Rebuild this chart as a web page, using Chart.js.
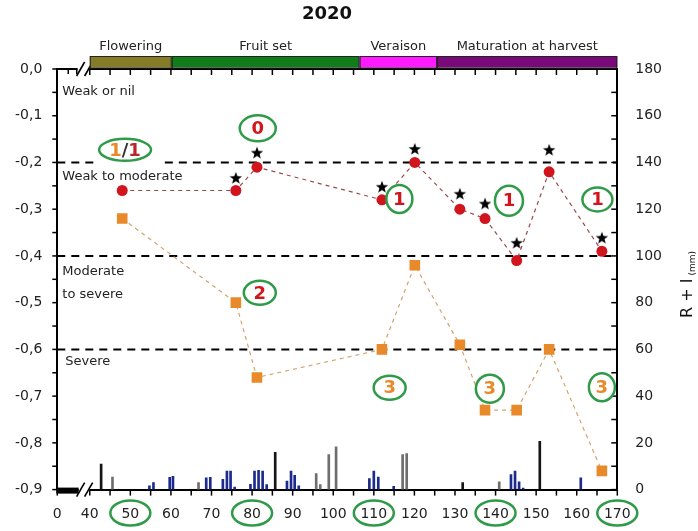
<!DOCTYPE html>
<html><head><meta charset="utf-8">
<script src="https://cdn.jsdelivr.net/npm/chart.js@4.4.1/dist/chart.umd.min.js"></script>
<style>html,body{margin:0;padding:0;background:#fff;}#wrap{width:698px;height:531px;position:relative;}</style>
</head><body><div id="wrap"><canvas id="c" width="698" height="531"></canvas></div>
<script>
// ---------- data ----------
const days = [48.0, 76.0, 81.2, 112.0, 120.1, 131.2, 137.4, 145.2, 153.2, 166.2];
const redValues = [-0.26, -0.26, -0.21, -0.28, -0.20, -0.30, -0.32, -0.41, -0.22, -0.39];
const orangeValues = [-0.32, -0.50, -0.66, -0.60, -0.42, -0.59, -0.73, -0.73, -0.60, -0.86];
const starDays = [76.0, 81.2, 112.0, 120.1, 131.2, 137.4, 145.2, 153.2, 166.2];
const starValues = [-0.233, -0.179, -0.252, -0.171, -0.267, -0.288, -0.372, -0.173, -0.361];

const blueRainDays = [54.7, 55.7, 59.7, 60.5, 68.7, 69.7, 72.8, 73.8, 74.7, 75.7, 79.6, 80.6, 81.6, 82.6, 83.6, 88.6, 89.6, 90.5, 91.5, 108.9, 110.0, 111.1, 114.9, 143.8, 144.8, 145.8, 146.8, 161.0];
const blueRainMm   = [1.6, 3.0, 5.3, 5.7, 5.0, 5.3, 4.4, 7.9, 7.9, 1.1, 2.3, 7.9, 8.3, 7.9, 2.1, 3.6, 7.9, 6.1, 1.6, 4.7, 7.9, 5.4, 1.4, 6.4, 7.9, 3.3, 0.7, 5.0];
const grayRainDays = [45.6, 66.8, 95.8, 96.8, 98.9, 100.7, 117.1, 118.1, 140.9];
const grayRainMm   = [5.4, 3.0, 6.9, 2.1, 15.0, 18.3, 15.0, 15.4, 3.3];
const blackRainDays = [42.8, 85.7, 131.9, 150.9];
const blackRainMm   = [10.9, 15.9, 3.0, 20.7];

const xTickValues = [32, 40, 50, 60, 70, 80, 90, 100, 110, 120, 130, 140, 150, 160, 170];
const xTickLabels = ['0', '40', '50', '60', '70', '80', '90', '100', '110', '120', '130', '140', '150', '160', '170'];
const yTickValues = [0, -0.1, -0.2, -0.3, -0.4, -0.5, -0.6, -0.7, -0.8, -0.9];
const yTickLabels = ['0,0', '-0,1', '-0,2', '-0,3', '-0,4', '-0,5', '-0,6', '-0,7', '-0,8', '-0,9'];
const y2TickValues = [0, 20, 40, 60, 80, 100, 120, 140, 160, 180];
const circledDays = [50, 80, 110, 140, 170];

const thresholds = [-0.2, -0.4, -0.6];
const zoneLabels = ['Weak or nil', 'Weak to moderate', 'Moderate', 'to severe', 'Severe'];
const zoneLabelValues = [-0.049, -0.23, -0.434, -0.483, -0.627];

const phaseNames = ['Flowering', 'Fruit set', 'Veraison', 'Maturation at harvest'];
const phaseStarts = [40, 60.2, 106.5, 125.6];
const phaseEnds = [60.2, 106.5, 125.6, 170];

const annotDays = [48.7, 81.4, 116.3, 143.3, 165.1, 81.9, 113.9, 138.6, 166.2];
const annotValues = [-0.173, -0.127, -0.278, -0.282, -0.279, -0.479, -0.682, -0.684, -0.681];
const annotTexts = ['1/1', '0', '1', '1', '1', '2', '3', '3', '3'];

// ---------- styles ----------
const RED = '#d0161c', ORANGE = '#e8892a', GREEN = '#2f9a48';
const annotColors = ['mix', RED, RED, RED, RED, RED, ORANGE, ORANGE, ORANGE];
const annotSizes = [[26, 11], [18, 13], [13, 14], [14, 15], [15, 12], [16, 12], [16, 12], [14, 14], [13, 14]];
const phaseColors = ['#857c27', '#117d1a', '#ff1aff', '#7a0a7a'];
const FONT = '"DejaVu Sans", sans-serif';

function makeStar(){
  const c = document.createElement('canvas');
  c.width = 14; c.height = 14;
  const g = c.getContext('2d');
  g.fillStyle = '#000';
  g.beginPath();
  for (let i = 0; i < 10; i++) {
    const r = i % 2 === 0 ? 6.5 : 2.7;
    const a = -Math.PI / 2 + i * Math.PI / 5;
    const px = 7 + r * Math.cos(a), py = 7.5 + r * Math.sin(a);
    if (i === 0) g.moveTo(px, py); else g.lineTo(px, py);
  }
  g.closePath(); g.fill();
  return c;
}
const starImg = makeStar();

const pts = (xs, ys) => xs.map((x, i) => ({x: x, y: ys[i]}));

const decor = {
  id: 'decor',
  beforeDatasetsDraw(chart) {
    const {ctx, chartArea: a, scales} = chart;
    const y = scales.y, x = scales.x;
    ctx.save();
    // threshold lines
    ctx.strokeStyle = '#000'; ctx.lineWidth = 2; ctx.setLineDash([8, 6]);
    thresholds.forEach((t, i) => {
      const py = y.getPixelForValue(t);
      ctx.beginPath();
      if (i === 0) {
        ctx.moveTo(a.left, py); ctx.lineTo(x.getPixelForValue(41.8), py);
        ctx.moveTo(x.getPixelForValue(58.5), py); ctx.lineTo(a.right, py);
      } else {
        ctx.moveTo(a.left, py); ctx.lineTo(a.right, py);
      }
      ctx.stroke();
    });
    ctx.setLineDash([]);
    // zone labels
    ctx.fillStyle = '#222'; ctx.font = '13px ' + FONT;
    ctx.textAlign = 'left'; ctx.textBaseline = 'middle';
    zoneLabels.forEach((t, i) => {
      const py = y.getPixelForValue(zoneLabelValues[i]);
      const px = a.left + (t === 'Severe' ? 8 : 5);
      ctx.fillText(t, px, py);
    });
    ctx.restore();
  },
  afterDraw(chart) {
    const {ctx, chartArea: a, scales} = chart;
    const x = scales.x, y = scales.y, y2 = scales.y2;
    ctx.save();
    ctx.strokeStyle = '#000'; ctx.lineWidth = 2;
    // top axis line with break
    const brk1 = x.getPixelForValue(37.5), brk2 = x.getPixelForValue(40);
    ctx.beginPath();
    ctx.moveTo(a.left - 1, a.top); ctx.lineTo(brk1 - 2, a.top);
    ctx.moveTo(brk2, a.top); ctx.lineTo(a.right, a.top);
    ctx.stroke();
    // bottom: thick segment and break
    ctx.fillStyle = '#fff';
    ctx.fillRect(brk1 - 1, a.bottom - 3, brk2 - brk1 + 1, 6);
    ctx.fillStyle = '#000';
    ctx.fillRect(a.left - 1, a.bottom - 2, brk1 - a.left, 6);
    ctx.lineWidth = 1.6;
    [a.top, a.bottom].forEach(py => {
      [brk1 + 1, brk1 + 9].forEach(px => {
        ctx.beginPath(); ctx.moveTo(px - 4, py + 7); ctx.lineTo(px + 4, py - 7); ctx.stroke();
      });
    });
    // ticks
    ctx.lineWidth = 1.5;
    for (let v = 40; v <= 170; v += 5) {
      const px = x.getPixelForValue(v);
      ctx.beginPath(); ctx.moveTo(px, a.bottom); ctx.lineTo(px, a.bottom + 6); ctx.stroke();
      if (v < 170) { ctx.beginPath(); ctx.moveTo(px, a.top); ctx.lineTo(px, a.top + 6); ctx.stroke(); }
    }
    [x.getPixelForValue(34.7), x.getPixelForValue(36.8)].forEach(px => {
      ctx.beginPath(); ctx.moveTo(px, a.top); ctx.lineTo(px, a.top + 5); ctx.stroke();
    });
    ctx.beginPath(); ctx.moveTo(a.left, a.bottom); ctx.lineTo(a.left, a.bottom + 6); ctx.stroke();
    for (let k = 0; k <= 18; k++) {
      const py = y.getPixelForValue(-k * 0.05);
      ctx.beginPath(); ctx.moveTo(a.left - 5, py); ctx.lineTo(a.left, py); ctx.stroke();
    }
    for (let v = 0; v <= 180; v += 10) {
      const py = y2.getPixelForValue(v);
      ctx.beginPath(); ctx.moveTo(a.right - 6, py); ctx.lineTo(a.right, py); ctx.stroke();
    }
    // phase bar
    const bt = a.top - 13, bh = 11.5;
    phaseNames.forEach((n, i) => {
      const x0 = x.getPixelForValue(phaseStarts[i]), x1 = x.getPixelForValue(phaseEnds[i]);
      ctx.fillStyle = phaseColors[i];
      ctx.fillRect(x0, bt, x1 - x0, bh);
      ctx.strokeStyle = '#222'; ctx.lineWidth = 1;
      ctx.strokeRect(x0 + 0.5, bt + 0.5, x1 - x0 - 1, bh);
      ctx.fillStyle = '#222'; ctx.font = '13px ' + FONT;
      ctx.textAlign = 'center'; ctx.textBaseline = 'middle';
      ctx.fillText(n, (x0 + x1) / 2, bt - 9);
    });
    // title
    ctx.fillStyle = '#111'; ctx.font = 'bold 18px ' + FONT;
    ctx.textAlign = 'center'; ctx.textBaseline = 'middle';
    ctx.fillText('2020', 327, 14);
    // right axis title
    ctx.save();
    ctx.translate(692, 318); ctx.rotate(-Math.PI / 2);
    ctx.textAlign = 'left'; ctx.textBaseline = 'alphabetic';
    ctx.font = '16px ' + FONT; ctx.fillStyle = '#111';
    ctx.fillText('R + I', 0, 0);
    const w = ctx.measureText('R + I').width;
    ctx.font = '9px ' + FONT;
    ctx.fillText('(mm)', w + 3, 3);
    ctx.restore();
    // annotations
    annotTexts.forEach((t, i) => {
      const cx = x.getPixelForValue(annotDays[i]), cy = y.getPixelForValue(annotValues[i]);
      const [rx, ry] = annotSizes[i];
      ctx.beginPath(); ctx.ellipse(cx, cy, rx, ry, 0, 0, Math.PI * 2);
      ctx.fillStyle = '#fff'; ctx.fill();
      ctx.strokeStyle = GREEN; ctx.lineWidth = 2.5; ctx.stroke();
      ctx.font = 'bold 18px ' + FONT; ctx.textBaseline = 'middle';
      if (annotColors[i] === 'mix') {
        const parts = [['1', ORANGE], ['/', '#333'], ['1', '#b8272b']];
        const tw = parts.reduce((s, p) => s + ctx.measureText(p[0]).width, 0);
        let px = cx - tw / 2;
        ctx.textAlign = 'left';
        parts.forEach(p => { ctx.fillStyle = p[1]; ctx.fillText(p[0], px, cy + 1); px += ctx.measureText(p[0]).width; });
      } else {
        ctx.textAlign = 'center'; ctx.fillStyle = annotColors[i];
        ctx.fillText(t, cx, cy + 1);
      }
    });
    // circled x labels
    ctx.strokeStyle = GREEN; ctx.lineWidth = 2.5;
    circledDays.forEach(d => {
      const cx = x.getPixelForValue(d);
      ctx.beginPath(); ctx.ellipse(cx, 513, 20, 12.5, 0, 0, Math.PI * 2); ctx.stroke();
    });
    ctx.restore();
  }
};

const rainSet = (xs, ys, col) => ({
  type: 'bar', label: 'rain', data: pts(xs, ys), yAxisID: 'y2', xAxisID: 'x',
  backgroundColor: col, borderWidth: 0, barThickness: 2, grouped: false, order: 5
});

new Chart(document.getElementById('c'), {
  type: 'bar',
  data: {
    datasets: [
      rainSet(blueRainDays, blueRainMm, '#1c2a8c'),
      rainSet(grayRainDays, grayRainMm, '#6e6e6e'),
      rainSet(blackRainDays, blackRainMm, '#151515'),
      { type: 'line', label: 'orange', data: pts(days, orangeValues), yAxisID: 'y', xAxisID: 'x',
        borderColor: '#cfa56e', borderWidth: 1.2, borderDash: [4, 4], fill: false, tension: 0,
        pointStyle: 'rect', pointRadius: 7.5, pointBackgroundColor: ORANGE, pointBorderWidth: 0, order: 2 },
      { type: 'line', label: 'red', data: pts(days, redValues), yAxisID: 'y', xAxisID: 'x',
        borderColor: '#9a4a4a', borderWidth: 1.2, borderDash: [4, 4], fill: false, tension: 0,
        pointStyle: 'circle', pointRadius: 5.5, pointBackgroundColor: RED, pointBorderWidth: 0, order: 1 },
      { type: 'line', label: 'stars', data: pts(starDays, starValues), yAxisID: 'y', xAxisID: 'x',
        showLine: false, pointStyle: starImg, pointRadius: 7, order: 0 }
    ]
  },
  options: {
    responsive: false, animation: false,
    layout: { padding: { top: 69, left: 0, right: 0, bottom: 0 } },
    plugins: { legend: { display: false }, tooltip: { enabled: false }, title: { display: false } },
    scales: {
      x: {
        type: 'linear', min: 32, max: 170, offset: false, position: 'bottom',
        afterBuildTicks: s => { s.ticks = xTickValues.map(v => ({ value: v })); },
        afterFit: s => { s.height = 41.4; },
        grid: { display: false },
        border: { display: true, color: '#000', width: 2 },
        ticks: { autoSkip: false, maxRotation: 0, padding: 8, color: '#222', font: { family: FONT, size: 14 },
          callback: v => { const i = xTickValues.indexOf(v); return i >= 0 ? xTickLabels[i] : ''; } }
      },
      y: {
        type: 'linear', position: 'left', min: -0.9, max: 0,
        afterBuildTicks: s => { s.ticks = yTickValues.map(v => ({ value: v })); },
        afterFit: s => { s.width = 57.3; },
        grid: { display: false },
        border: { display: true, color: '#000', width: 2 },
        ticks: { padding: 7, color: '#222', font: { family: FONT, size: 14 },
          callback: v => { const i = yTickValues.findIndex(t => Math.abs(t - v) < 1e-6); return i >= 0 ? yTickLabels[i] : ''; } }
      },
      y2: {
        type: 'linear', position: 'right', min: 0, max: 180,
        afterBuildTicks: s => { s.ticks = y2TickValues.map(v => ({ value: v })); },
        afterFit: s => { s.width = 80.7; },
        grid: { display: false },
        border: { display: true, color: '#000', width: 2 },
        ticks: { padding: 10, color: '#222', font: { family: FONT, size: 14 } }
      }
    }
  },
  plugins: [decor]
});
</script></body></html>
